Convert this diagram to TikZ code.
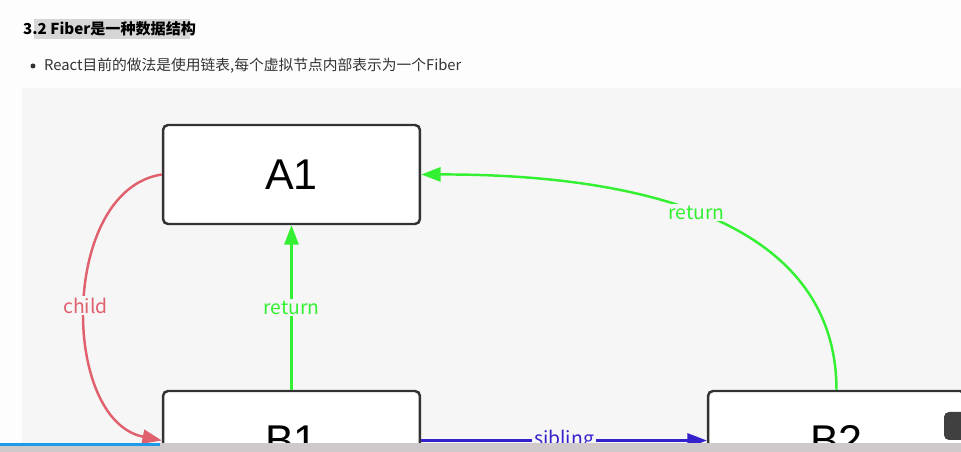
\documentclass[tikz,border=0pt]{standalone}
\usepackage{fontspec}
\setmainfont{Noto Sans CJK SC}
\newfontfamily\boxfont{Liberation Sans}
\usetikzlibrary{arrows.meta}
\definecolor{pagebg}{HTML}{FDFDFD}
\definecolor{canvasbg}{HTML}{F6F6F6}
\definecolor{edgered}{HTML}{E0606E}
\definecolor{edgegreen}{HTML}{33F033}
\definecolor{edgeblue}{HTML}{3322CC}
\definecolor{boxline}{HTML}{333333}
\definecolor{markgray}{HTML}{D6D6D6}
\definecolor{textgray}{HTML}{333333}
\definecolor{barcolor}{HTML}{CFC9CC}
\definecolor{barblue}{HTML}{1E9BE8}

\begin{document}
\begin{tikzpicture}[x=0.02cm, y=-0.02cm, every node/.style={font=\fontsize{8.4}{10}\selectfont}]
  \tikzset{
      fiber/.style={draw=boxline, line width=1.4pt, fill=white, rounded corners=0.1cm, minimum width=5.14cm, minimum height=1.98cm, font=\boxfont\fontsize{24.5}{28}\selectfont},
      link/.style={line width=1.4pt, -{Triangle[length=11pt,width=8pt]}},
      tag/.style={fill=canvasbg, inner sep=1pt, font=\fontsize{11}{13}\selectfont}
  }
  \useasboundingbox (0,0) rectangle (961,452);
  \clip (0,0) rectangle (961,452);
  \fill[pagebg] (0,0) rectangle (961,452);
  \fill[canvasbg] (22,88) rectangle (961,452);

  % heading and bullet line
  \fill[markgray] (34,19) rectangle (190,39);
  \node[anchor=west, text=black, font=\bfseries\fontsize{8.6}{10}\selectfont] (title) at (17,29) {3.2 Fiber是一种数据结构};
  \node[circle, fill=textgray, inner sep=0pt, minimum size=0.1cm] (dot) at (33,66) {};
  \node[anchor=west, text=textgray] (intro) at (38,66) {React目前的做法是使用链表,每个虚拟节点内部表示为一个Fiber};

  % fibers
  \node[fiber] (a1) at (291.5,174.5) {A1};
  \node[fiber] (b1) at (291.5,440.5) {B1};
  \node[fiber] (b2) at (836.5,440.5) {B2};

  % pointers
  \draw[link, edgered] (a1.west) .. controls (60,190) and (60,420) .. (b1.west)
      node[tag, pos=0.5, text=edgered] (childtag) {child};
  \draw[link, edgegreen] (b1.north) -- (a1.south)
      node[tag, midway, text=edgegreen] (returntag1) {return};
  \draw[link, edgegreen] (b2.north) .. controls (836,220) and (640,174) .. (a1.east)
      node[tag, pos=0.53, text=edgegreen] (returntag2) {return};
  \draw[link, edgeblue] (b1.east) -- (b2.west)
      node[tag, midway, text=edgeblue] (siblingtag) {sibling};

  % screen edge
  \fill[barcolor] (0,443) rectangle (961,452);
  \draw[barblue, line width=1.4pt] (0,444.5) -- (160,444.5);
  \fill[black!75, rounded corners=0.1cm] (944,412) rectangle (975,440);
\end{tikzpicture}
\end{document}
